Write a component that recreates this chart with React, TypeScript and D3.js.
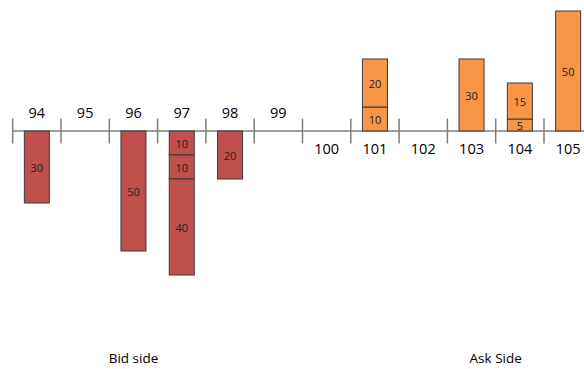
import React from "react";
import * as d3 from "d3";

// Price levels along the axis
const prices = [94, 95, 96, 97, 98, 99, 100, 101, 102, 103, 104, 105];
// Prices whose labels sit above the axis (bid side); the rest go below
const bidPrices = [94, 95, 96, 97, 98, 99];

// Resting order sizes per price, stacked outward from the axis in order
const bidOrders: { price: number; sizes: number[] }[] = [
  { price: 94, sizes: [30] },
  { price: 96, sizes: [50] },
  { price: 97, sizes: [10, 10, 40] },
  { price: 98, sizes: [20] },
];
const askOrders: { price: number; sizes: number[] }[] = [
  { price: 101, sizes: [10, 20] },
  { price: 103, sizes: [30] },
  { price: 104, sizes: [5, 15] },
  { price: 105, sizes: [50] },
];

// Captions under each side; `at` is a position in price-slot units (0.5 = slot centre)
const sideLabels = [
  { text: "Bid side", price: 96, at: 0.5 },
  { text: "Ask Side", price: 103, at: 1.0 },
];

const W = 584;
const H = 369;
const AXIS_Y = 131;
const FONT = "'Open Sans', 'DejaVu Sans', sans-serif";

export default function App() {
  const x = d3
    .scaleBand<number>()
    .domain(prices)
    .range([12.7, 12.7 + 48.3 * prices.length])
    .padding(0);
  const bw = x.bandwidth();
  const barW = 25;

  // size -> pixel length
  const len = d3.scaleLinear().domain([0, 50]).range([0, 120]);

  type Seg = { key: string; x: number; y: number; h: number; v: number; side: "bid" | "ask" };
  const segs: Seg[] = [];
  bidOrders.forEach((o) => {
    let acc = 0;
    o.sizes.forEach((s, i) => {
      const y0 = AXIS_Y + len(acc);
      segs.push({ key: `b${o.price}-${i}`, x: (x(o.price) as number) + (bw - barW) / 2, y: y0, h: len(s), v: s, side: "bid" });
      acc += s;
    });
  });
  askOrders.forEach((o) => {
    let acc = 0;
    o.sizes.forEach((s, i) => {
      acc += s;
      const yTop = AXIS_Y - len(acc);
      segs.push({ key: `a${o.price}-${i}`, x: (x(o.price) as number) + (bw - barW) / 2, y: yTop, h: len(s), v: s, side: "ask" });
    });
  });

  const tickXs = prices.map((p) => x(p) as number);
  tickXs.push((x(prices[prices.length - 1]) as number) + bw);

  return (
    <svg
      width={W}
      height={H}
      style={{ position: "absolute", left: 0, top: 0, background: "#fff", display: "block" }}
    >
      {/* axis */}
      <line x1={12.7} x2={W} y1={AXIS_Y} y2={AXIS_Y} stroke="#7f7f7f" strokeWidth={1.5} />
      {tickXs.map((tx, i) => (
        <line key={i} x1={tx} x2={tx} y1={AXIS_Y - 12.5} y2={AXIS_Y + 12.5} stroke="#7f7f7f" strokeWidth={1.5} />
      ))}

      {/* order bars */}
      {segs.map((s) => (
        <g key={s.key}>
          <rect
            x={s.x}
            y={s.y}
            width={barW}
            height={s.h}
            fill={s.side === "bid" ? "#c0504d" : "#f79646"}
            stroke="#3b3b3b"
            strokeWidth={1}
          />
          <text
            x={s.x + barW / 2}
            y={s.y + s.h / 2}
            textAnchor="middle"
            dominantBaseline="central"
            fontFamily={FONT}
            fontSize={11}
            fill="#222"
          >
            {s.v}
          </text>
        </g>
      ))}

      {/* price labels */}
      {prices.map((p) => {
        const above = bidPrices.includes(p);
        return (
          <text
            key={p}
            x={(x(p) as number) + bw / 2}
            y={above ? 112.5 : 148.5}
            textAnchor="middle"
            dominantBaseline="central"
            fontFamily={FONT}
            fontSize={14.5}
            fill="#000"
          >
            {p}
          </text>
        );
      })}

      {/* side captions */}
      {sideLabels.map((l) => (
        <text
          key={l.text}
          x={(x(l.price) as number) + bw * l.at}
          y={363}
          textAnchor="middle"
          fontFamily={FONT}
          fontSize={13.5}
          fill="#000"
        >
          {l.text}
        </text>
      ))}
    </svg>
  );
}
